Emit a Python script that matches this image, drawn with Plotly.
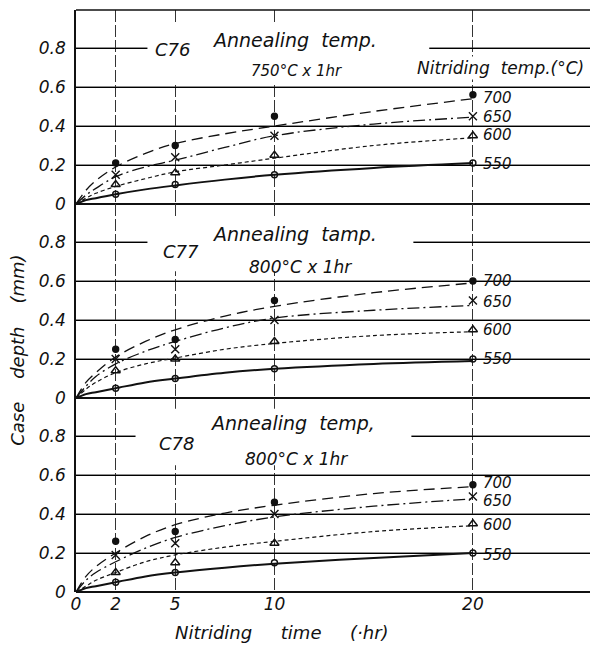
import plotly.graph_objects as go
from plotly.subplots import make_subplots

# ---------------- data ----------------
times = [2, 5, 10, 20]
temps = ["700", "650", "600", "550"]

# measured case depth (mm) for each nitriding temp, per steel
c76_pts = {"700": [0.21, 0.30, 0.45, 0.56],
           "650": [0.15, 0.24, 0.35, 0.45],
           "600": [0.10, 0.16, 0.25, 0.35],
           "550": [0.05, 0.10, 0.15, 0.21]}
c77_pts = {"700": [0.25, 0.30, 0.50, 0.60],
           "650": [0.20, 0.25, 0.40, 0.50],
           "600": [0.14, 0.20, 0.29, 0.35],
           "550": [0.05, 0.10, 0.15, 0.20]}
c78_pts = {"700": [0.26, 0.31, 0.46, 0.55],
           "650": [0.19, 0.25, 0.40, 0.49],
           "600": [0.10, 0.15, 0.25, 0.35],
           "550": [0.05, 0.10, 0.15, 0.20]}

# fitted curves
curve_t = [0, 0.5, 1, 2, 3.5, 5, 7.5, 10, 15, 20]
c76_curve = {"700": [0, 0.07, 0.12, 0.19, 0.26, 0.31, 0.36, 0.40, 0.475, 0.54],
             "650": [0, 0.045, 0.08, 0.14, 0.19, 0.225, 0.29, 0.35, 0.41, 0.445],
             "600": [0, 0.03, 0.055, 0.09, 0.13, 0.165, 0.20, 0.235, 0.30, 0.34],
             "550": [0, 0.02, 0.03, 0.05, 0.075, 0.095, 0.125, 0.15, 0.185, 0.21]}
c77_curve = {"700": [0, 0.08, 0.13, 0.21, 0.29, 0.35, 0.42, 0.47, 0.54, 0.59],
             "650": [0, 0.06, 0.11, 0.175, 0.24, 0.29, 0.36, 0.41, 0.45, 0.475],
             "600": [0, 0.045, 0.08, 0.13, 0.175, 0.205, 0.25, 0.28, 0.32, 0.34],
             "550": [0, 0.02, 0.03, 0.05, 0.08, 0.10, 0.13, 0.15, 0.175, 0.19]}
c78_curve = {"700": [0, 0.08, 0.13, 0.20, 0.285, 0.345, 0.405, 0.445, 0.505, 0.54],
             "650": [0, 0.06, 0.10, 0.155, 0.225, 0.28, 0.34, 0.385, 0.44, 0.478],
             "600": [0, 0.03, 0.06, 0.10, 0.155, 0.19, 0.23, 0.26, 0.31, 0.34],
             "550": [0, 0.02, 0.03, 0.05, 0.08, 0.10, 0.125, 0.145, 0.175, 0.20]}

steels = ["C76", "C77", "C78"]
anneal_titles = ["Annealing\u00a0 temp.", "Annealing\u00a0 tamp.", "Annealing\u00a0 temp,"]
anneal_conds = ["750°C x 1hr", "800°C x 1hr", "800°C x 1hr"]
y_ticks = [0, 0.2, 0.4, 0.6, 0.8]
y_ticktext = ["0", "0.2", "0.4", "0.6", "0.8"]
x_ticks = [0, 2, 5, 10, 20]

# ---------------- styles / layout positions ----------------
FONT = "DejaVu Sans"
INK = "#111"
line_dash = {"700": "11px,6px", "650": "12px,4px,2px,4px", "600": "4px,3px", "550": "solid"}
line_width = {"700": 1.3, "650": 1.3, "600": 1.2, "550": 2.0}
marker_sym = {"700": "circle", "650": "x-thin-open", "600": "triangle-up-open", "550": "circle-open"}
marker_size = {"700": 6, "650": 8, "600": 8, "550": 6}
# vertical placement of the right-hand temperature labels (axis units)
label_y = [[0.545, 0.445, 0.355, 0.205],
           [0.60, 0.49, 0.35, 0.20],
           [0.558, 0.468, 0.345, 0.19]]
title_pos = [(11.0, 0.84), (11.0, 0.84), (10.9, 0.865)]
steel_pos = [(4.85, 0.79), (5.3, 0.75), (5.05, 0.76)]
cond_pos = [(11.1, 0.68), (11.3, 0.67), (11.1, 0.68)]
cond_size = [15, 17, 17]
# blank (un-ruled) area behind each panel's caption: x0, x1, y0, y1
blank_box = [(3.6, 17.8, 0.61, 0.92), (3.6, 17.0, 0.65, 0.93), (3.0, 16.9, 0.65, 0.94)]

fig = make_subplots(rows=3, cols=1, shared_xaxes=True, vertical_spacing=0)

panels = [(c76_pts, c76_curve), (c77_pts, c77_curve), (c78_pts, c78_curve)]
for r, (pts, crv) in enumerate(panels, start=1):
    for t in temps:
        fig.add_trace(go.Scatter(x=curve_t, y=crv[t], mode="lines",
                                 line=dict(color=INK, width=line_width[t], dash=line_dash[t],
                                           shape="spline", smoothing=1.0),
                                 showlegend=False, hoverinfo="skip"), row=r, col=1)
        fig.add_trace(go.Scatter(x=times, y=pts[t], mode="markers",
                                 marker=dict(symbol=marker_sym[t], size=marker_size[t], color=INK,
                                             line=dict(color=INK, width=1.4)),
                                 showlegend=False), row=r, col=1)

fig.update_xaxes(range=[0, 25.9], tickvals=x_ticks, showgrid=True, gridcolor="#333",
                 gridwidth=1, griddash="12px,3px", zeroline=False, showline=False,
                 ticks="", tickfont=dict(family=FONT, size=17, color=INK, style="italic"))
fig.update_yaxes(range=[0, 0.995], tickmode="array", tickvals=y_ticks, ticktext=y_ticktext,
                 showgrid=True, gridcolor="black", gridwidth=1,
                 zeroline=True, zerolinecolor=INK, zerolinewidth=2,
                 showline=True, linecolor=INK, linewidth=1.6,
                 ticks="outside", ticklen=5, tickcolor="white",
                 tickfont=dict(family=FONT, size=17, color=INK, style="italic"))

shapes = [dict(type="line", xref="paper", yref="paper", x0=0, x1=1, y0=1, y1=1,
               line=dict(color=INK, width=1.6))]
for i in range(3):
    xr = "x" if i == 0 else f"x{i+1}"
    yr = "y" if i == 0 else f"y{i+1}"
    for v in y_ticks[1:]:
        shapes.append(dict(type="line", xref="paper", yref=yr, x0=0, x1=1, y0=v, y1=v,
                           layer="below", line=dict(color="#222", width=1.1)))
    bx = blank_box[i]
    shapes.append(dict(type="rect", xref=xr, yref=yr, x0=bx[0], x1=bx[1], y0=bx[2], y1=bx[3],
                       layer="between", fillcolor="white", line=dict(width=0)))

ann_font = dict(family=FONT, color=INK, style="italic")
anns = []
for i in range(3):
    xr = "x" if i == 0 else f"x{i+1}"
    yr = "y" if i == 0 else f"y{i+1}"
    anns.append(dict(x=title_pos[i][0], y=title_pos[i][1], xref=xr, yref=yr, text=anneal_titles[i],
                     showarrow=False, font=dict(size=19, **ann_font)))
    anns.append(dict(x=steel_pos[i][0], y=steel_pos[i][1], xref=xr, yref=yr, text=steels[i],
                     showarrow=False, font=dict(size=18, **ann_font)))
    anns.append(dict(x=cond_pos[i][0], y=cond_pos[i][1], xref=xr, yref=yr, text=anneal_conds[i],
                     showarrow=False, font=dict(size=cond_size[i], **ann_font)))
    for k, t in enumerate(temps):
        anns.append(dict(x=20.45, y=label_y[i][k], xref=xr, yref=yr, text=t, xanchor="left",
                         showarrow=False, borderpad=0, font=dict(size=15, **ann_font)))

anns.append(dict(x=21.4, y=0.70, xref="x", yref="y", text="Nitriding\u00a0 temp.(°C)",
                 showarrow=False, bgcolor="white", font=dict(size=17, **ann_font)))
anns.append(dict(x=-0.113, y=0.416, xref="paper", yref="paper", xanchor="center", yanchor="middle",
                 textangle=-90,
                 text="Case\u00a0\u00a0\u00a0 depth\u00a0\u00a0\u00a0 (mm)", showarrow=False,
                 font=dict(size=18, **ann_font)))
anns.append(dict(x=0.40, y=-0.069, xref="paper", yref="paper", xanchor="center", yanchor="middle",
                 text="Nitriding\u00a0\u00a0\u00a0\u00a0 time\u00a0\u00a0\u00a0\u00a0 (·hr)",
                 showarrow=False, font=dict(size=18, **ann_font)))

fig.update_layout(
    width=592, height=653,
    margin=dict(l=76, r=2, t=10, b=61),
    paper_bgcolor="white", plot_bgcolor="white",
    annotations=anns,
    shapes=shapes,
    showlegend=False,
)

fig.write_html("out.html", config={"displayModeBar": False},
               post_script="document.body.style.margin='0';")
